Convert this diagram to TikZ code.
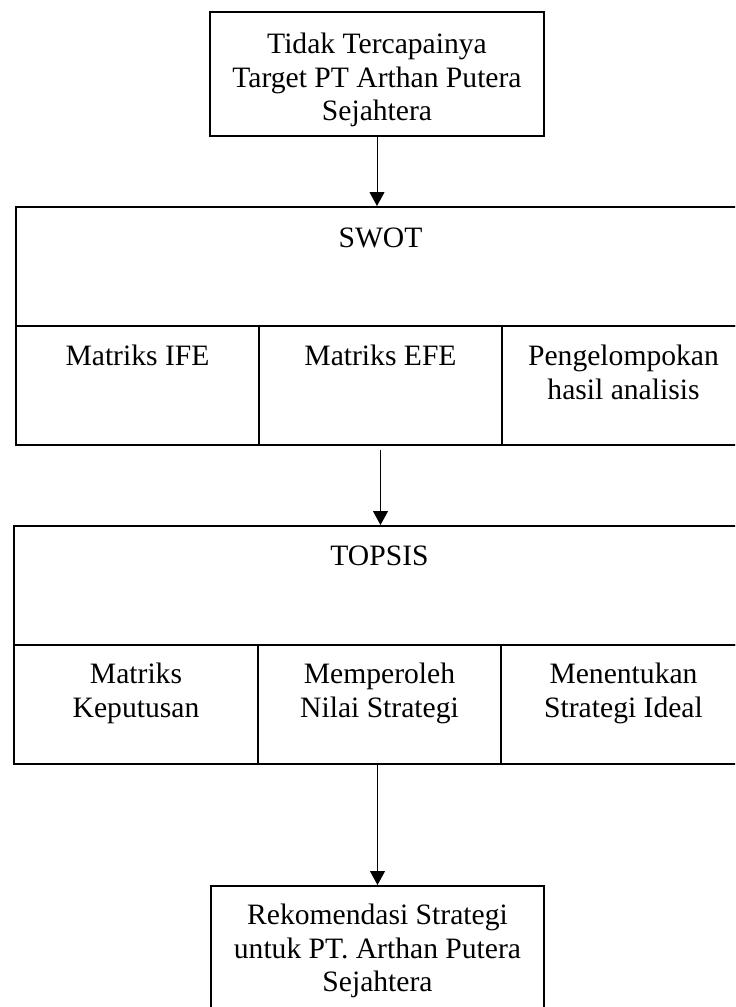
\documentclass[tikz,border=0pt]{standalone}
\usepackage{fontspec}
\setmainfont{Liberation Serif}
\usetikzlibrary{arrows.meta, positioning, calc}

\tikzset{
  cell/.style={draw, line width=1pt, rectangle, inner sep=0pt},
  lbl/.style={font=\fontsize{14.8}{16.9}\selectfont, align=center, inner sep=0pt},
  flow/.style={-{Triangle[length=7pt,width=7.5pt]}, line width=0.5pt}
}

\begin{document}
\begin{tikzpicture}[x=0.5pt, y=-0.5pt]
\useasboundingbox (0,0) rectangle (735,1007);
\clip (0,0) rectangle (735,1007);

% Problem box
\node[cell, minimum width=167pt, minimum height=62pt] (masalah) at (377,74) {};
\node[lbl] (masalahlbl) at ($(masalah.center)+(0,6)$)
  {Tidak Tercapainya\\Target PT Arthan Putera\\Sejahtera};

% SWOT block
\node[cell, minimum width=364.5pt, minimum height=59.5pt, anchor=north west] (swot) at (15,206) {};
\node[lbl, below=10.5pt of swot.north] (swotlbl) {SWOT};
\node[cell, minimum width=121.5pt, minimum height=59.5pt, anchor=north west] (ife) at (15,325) {};
\node[cell, minimum width=121.5pt, minimum height=59.5pt, anchor=north west] (efe) at (258,325) {};
\node[cell, minimum width=121.5pt, minimum height=59.5pt, anchor=north west] (kelompok) at (501,325) {};
\node[lbl, below=10pt of ife.north] (ifelbl) {Matriks IFE};
\node[lbl, below=10pt of efe.north] (efelbl) {Matriks EFE};
\node[lbl, below=10pt of kelompok.north] (kelompoklbl) {Pengelompokan\\hasil analisis};

% TOPSIS block
\node[cell, minimum width=365.5pt, minimum height=59.5pt, anchor=north west] (topsis) at (13,525) {};
\node[lbl, below=10pt of topsis.north] (topsislbl) {TOPSIS};
\node[cell, minimum width=122pt, minimum height=59.5pt, anchor=north west] (keputusan) at (13,644) {};
\node[cell, minimum width=121.5pt, minimum height=59.5pt, anchor=north west] (nilai) at (257,644) {};
\node[cell, minimum width=122.5pt, minimum height=59.5pt, anchor=north west] (ideal) at (500,644) {};
\node[lbl, below=9.5pt of keputusan.north] (keputusanlbl) {Matriks\\Keputusan};
\node[lbl, below=9.5pt of nilai.north] (nilailbl) {Memperoleh\\Nilai Strategi};
\node[lbl, below=9.5pt of ideal.north] (ideallbl) {Menentukan\\Strategi Ideal};

% Result box
\node[cell, minimum width=166.5pt, minimum height=62pt, anchor=north] (rekom) at (377.5,885) {};
\node[lbl] (rekomlbl) at ($(rekom.center)+(0,3)$)
  {Rekomendasi Strategi\\untuk PT. Arthan Putera\\Sejahtera};

% Arrows
\draw[flow] (masalah.south) -- (masalah.south |- swot.north);
\draw[flow, shorten <=2pt] (efe.south) -- (efe.south |- topsis.north);
\draw[flow] (rekom.north |- nilai.south) -- (rekom.north);
\end{tikzpicture}
\end{document}
